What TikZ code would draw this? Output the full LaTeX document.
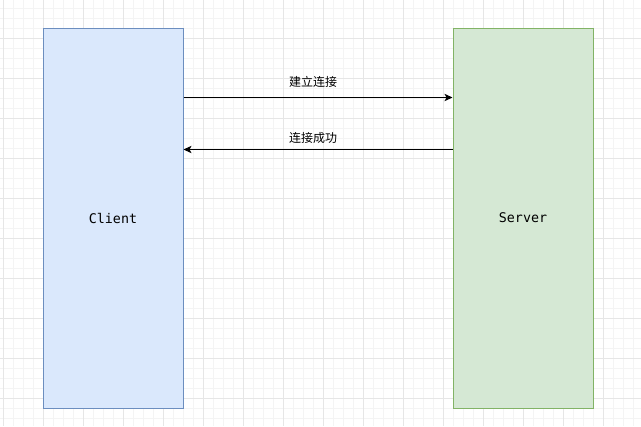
\documentclass[tikz,border=0pt]{standalone}
\usepackage{fontspec}
\setmonofont{DejaVu Sans Mono}
\newfontfamily\cjk{Noto Sans CJK SC}
\usepackage{tikz}
\usetikzlibrary{arrows.meta,calc}

\definecolor{clientfill}{HTML}{DAE8FC}
\definecolor{clientline}{HTML}{6C8EBF}
\definecolor{serverfill}{HTML}{D5E8D4}
\definecolor{serverline}{HTML}{82B366}
\definecolor{minorgrid}{HTML}{F4F4F4}
\definecolor{majorgrid}{HTML}{E6E6E6}

\begin{document}
\begin{tikzpicture}[x=0.75pt, y=-0.75pt,
  party/.style ={rectangle, draw, line width=0.75pt, minimum width=105pt,
                 minimum height=285pt, inner sep=0pt,
                 font=\ttfamily\fontsize{10}{12}\selectfont},
  message/.style ={-{Stealth[length=6pt, width=5.5pt, inset=1.5pt]}, line width=0.75pt},
  caption/.style ={font=\cjk\fontsize{9}{11}\selectfont, inner sep=0pt}]
 \useasboundingbox (0,0) rectangle (641,426);
 \fill[white] (0,0) rectangle (641,426);
 % background grid
 \foreach \gx in {3,13,...,633} \draw[minorgrid, line width=0.75pt] (\gx,0) -- (\gx,426);
 \foreach \gy in {8,18,...,418} \draw[minorgrid, line width=0.75pt] (0,\gy) -- (641,\gy);
 \foreach \gx in {3,43,...,603} \draw[majorgrid, line width=0.75pt] (\gx,0) -- (\gx,426);
 \foreach \gy in {38,78,...,398} \draw[majorgrid, line width=0.75pt] (0,\gy) -- (641,\gy);

 \node[party, fill=clientfill, draw=clientline] (client) at (113,218) {Client};
 \node[party, fill=serverfill, draw=serverline] (server) at (523,218) {Server};

 \coordinate (c1) at ($(client.north east)+(0,70)$);
 \coordinate (s1) at ($(server.north west)+(0,70)$);
 \coordinate (c2) at ($(client.north east)+(0,122)$);
 \coordinate (s2) at ($(server.north west)+(0,122)$);

 \draw[message] (c1) to (s1);
 \draw[message] (s2) to (c2);

 \node[caption] (connect) at (313,82)  {建立连接};
 \node[caption] (success) at (313,138) {连接成功};
\end{tikzpicture}
\end{document}
